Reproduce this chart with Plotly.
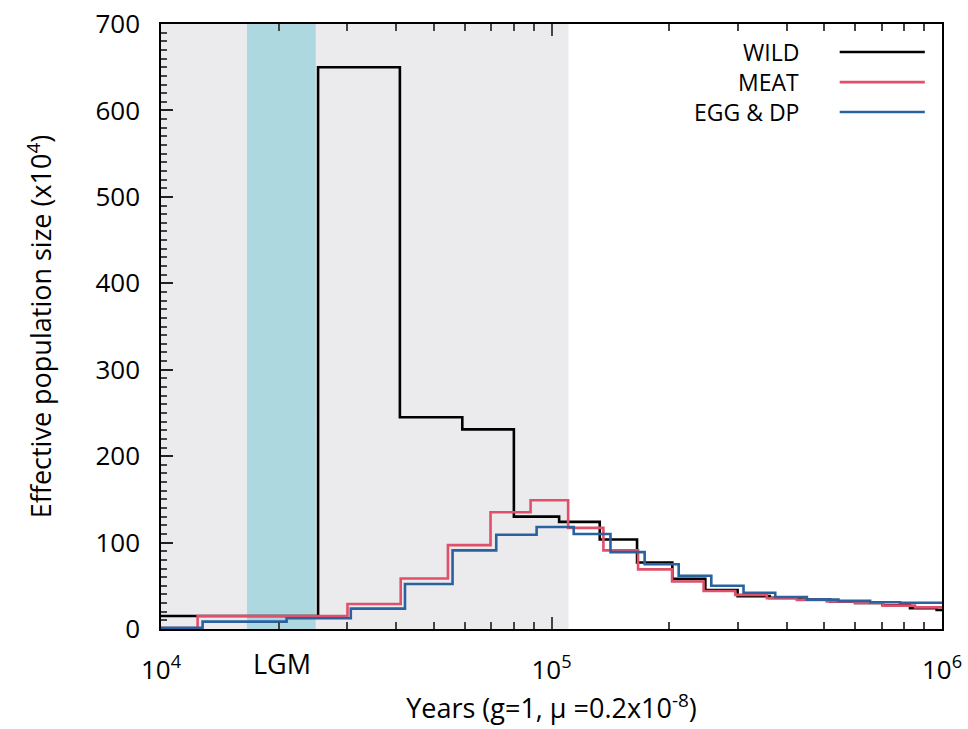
import math
import plotly.graph_objects as go

# Step edges (years) and effective population size (x10^4)
wild_years = [10000, 25250, 40900, 59100, 80100, 104600, 132900, 165600, 203900, 247700,
              299600, 361700, 433500, 517000, 599000, 705000, 828000, 969000, 1000000]
wild_ne = [15, 650, 245, 231, 130, 124, 103.5, 77, 58, 45,
           38, 36, 34, 32, 30, 27.5, 24, 22, 22]

meat_years = [10000, 12410, 30030, 41100, 54300, 69800, 88400, 110300, 135800, 166600,
              203600, 245200, 295500, 356200, 425000, 507000, 599000, 706500, 853000, 1000000]
meat_ne = [1, 15, 29, 58.5, 97, 135, 149, 117, 91, 69,
           55, 44, 39.5, 35.6, 33.7, 31.8, 30, 27, 25, 25]

egg_years = [10000, 12780, 20970, 30620, 42150, 55800, 72200, 91600, 114000, 141600,
             173200, 211700, 256600, 310300, 374100, 450800, 543000, 654500, 781000, 1000000]
egg_ne = [1.5, 8.5, 12.4, 23.6, 52, 91, 109, 118, 110, 89,
          75, 61.6, 50, 42, 37, 34, 32.5, 31, 30.3, 30.3]

series_names = ["WILD", "MEAT", "EGG & DP"]
series_colors = ["#000000", "#E0506A", "#2A62A0"]

gray_period = [10000, 110500]
lgm_period = [16600, 24900]
lgm_label_year = 20400

fig = go.Figure()

fig.add_vrect(x0=gray_period[0], x1=gray_period[1], fillcolor="#EBEBEE", line_width=0, layer="below")
fig.add_vrect(x0=lgm_period[0], x1=lgm_period[1], fillcolor="#AED8E0", line_width=0, layer="below")

for name, xs, ys, col in zip(series_names, [wild_years, meat_years, egg_years],
                             [wild_ne, meat_ne, egg_ne], series_colors):
    fig.add_trace(go.Scatter(x=xs, y=ys, mode="lines", line=dict(color=col, width=2.6, shape="hv"),
                             name=name, showlegend=False))

font_family = "Open Sans, Liberation Sans, sans-serif"

# Custom legend (text on the left, line sample on the right)
leg_y = [0.9537, 0.904, 0.8545]
for name, col, yy in zip(series_names, series_colors, leg_y):
    fig.add_annotation(x=0.818, y=yy, xref="paper", yref="paper", text=name, showarrow=False,
                       xanchor="right", yanchor="middle", borderpad=0,
                       font=dict(size=23, color="black", family=font_family))
    fig.add_shape(type="line", xref="paper", yref="paper", x0=0.869, x1=0.978, y0=yy, y1=yy,
                  line=dict(color=col, width=2.6))

fig.add_annotation(x=math.log10(lgm_label_year), y=0, xref="x", yref="paper", yshift=-34, text="LGM",
                   showarrow=False, xanchor="center", yanchor="middle",
                   font=dict(size=27, color="black", family=font_family))

minor_x = [m * 10 ** e for e in (4, 5) for m in range(2, 10)]

fig.update_layout(
    width=968, height=729,
    margin=dict(l=161, r=26, t=24, b=100),
    plot_bgcolor="white", paper_bgcolor="white",
    font=dict(family=font_family, size=26, color="black"),
    xaxis=dict(type="log", range=[4, 6], tickvals=[1e4, 1e5, 1e6],
               ticktext=["10<sup>4</sup>", "10<sup>5</sup>", "10<sup>6</sup>"],
               ticks="inside", ticklen=12, tickwidth=1.5, tickcolor="#444",
               minor=dict(tickvals=minor_x, ticks="inside", ticklen=7, tickwidth=1.5, tickcolor="#444"),
               showline=True, linecolor="black", linewidth=1.5, mirror="ticks",
               showgrid=False, zeroline=False, tickfont=dict(size=26), ticklabelstandoff=17,
               automargin=False,
               title=dict(text="Years (g=1, \u03bc =0.2x10<sup>-8</sup>)", font=dict(size=27), standoff=8)),
    yaxis=dict(range=[0, 700], tickvals=[0, 100, 200, 300, 400, 500, 600, 700],
               ticks="inside", ticklen=12, tickwidth=1.5, tickcolor="#222",
               minor=dict(dtick=10, ticks="inside", ticklen=6, tickwidth=1.5, tickcolor="#444"),
               showline=True, linecolor="black", linewidth=1.5, mirror=True,
               showgrid=False, zeroline=False, tickfont=dict(size=26), ticklabelstandoff=14,
               automargin=False,
               title=dict(text="Effective population size (x10<sup>4</sup>)", font=dict(size=27), standoff=36)),
)

fig.write_html("out.html")
